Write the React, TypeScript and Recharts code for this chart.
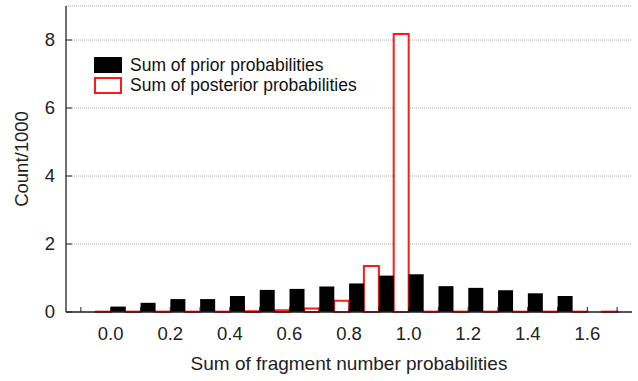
import { BarChart, Bar, XAxis, YAxis, CartesianGrid, Legend } from 'recharts'

const bins = ['-0.1', '0.0', '0.1', '0.2', '0.3', '0.4', '0.5', '0.6', '0.7', '0.8', '0.9', '1.0', '1.1', '1.2', '1.3', '1.4', '1.5', '1.6', '1.7']
const prior = [0, 0.16, 0.27, 0.38, 0.38, 0.47, 0.65, 0.68, 0.75, 0.84, 1.07, 1.11, 0.76, 0.71, 0.64, 0.55, 0.47, 0, 0]
const posterior = [0, 0.01, 0.01, 0.01, 0.01, 0.01, 0.02, 0.05, 0.1, 0.33, 1.35, 8.18, 0.01, 0.01, 0.01, 0.01, 0.01, 0.01, 0.01]
const xLabels = ['0.0', '0.2', '0.4', '0.6', '0.8', '1.0', '1.2', '1.4', '1.6']
const yTicks = [0, 2, 4, 6, 8]

const data = bins.map((bin, i) => ({ bin, prior: prior[i], posterior: posterior[i] }))

const FONT = 'Liberation Sans, Arial, sans-serif'
const AXIS = '#222'
const RED = '#ff1a1a'

function XTick({ x, y, payload }: any) {
  const v = payload.value
  return (
    <g>
      <line x1={x} x2={x} y1={y} y2={y - 5} stroke={AXIS} />
      {xLabels.includes(v) && (
        <text x={x} y={y + 28} textAnchor="middle" fontSize={18.5} fontFamily={FONT} fill="#222">
          {v}
        </text>
      )}
    </g>
  )
}

function YTick({ x, y, payload }: any) {
  return (
    <g>
      <line x1={x} x2={x + 6} y1={y} y2={y} stroke={AXIS} />
      <text x={x - 11} y={y} dy="0.35em" textAnchor="end" fontSize={18.5} fontFamily={FONT} fill="#222">
        {payload.value}
      </text>
    </g>
  )
}

function YLabel({ viewBox }: any) {
  const cx = 22
  const cy = viewBox.y + viewBox.height / 2
  return (
    <text x={cx} y={cy} transform={`rotate(-90 ${cx} ${cy})`} textAnchor="middle" dy="0.35em" fontSize={18.5} fontFamily={FONT} fill="#222">
      Count/1000
    </text>
  )
}

function LegendBox() {
  const row = { display: 'flex', alignItems: 'center', height: 20.5, fontSize: 17.5, fontFamily: FONT, color: '#111', whiteSpace: 'nowrap' as const }
  return (
    <div>
      <div style={row}>
        <span style={{ width: 28, height: 16, background: '#000', marginRight: 8, boxSizing: 'border-box' }} />
        Sum of prior probabilities
      </div>
      <div style={row}>
        <span style={{ width: 28, height: 17, border: `2px solid ${RED}`, background: '#fff', marginRight: 8, boxSizing: 'border-box' }} />
        Sum of posterior probabilities
      </div>
    </div>
  )
}

export default function App() {
  return (
    <div style={{ position: 'absolute', left: 0, top: 0, background: '#fff' }}>
      <BarChart
        width={638}
        height={381}
        data={data}
        margin={{ top: 6, right: 6, bottom: 0, left: 0 }}
        barCategoryGap="0%"
        barGap={0}
      >
        <CartesianGrid vertical={false} horizontal stroke="#aaa" strokeDasharray="1 1" />
        <XAxis
          dataKey="bin"
          interval={0}
          height={69}
          tickSize={0}
          tickMargin={0}
          tick={<XTick />}
          axisLine={{ stroke: AXIS, strokeWidth: 1.3 }}
          label={{ value: 'Sum of fragment number probabilities', position: 'insideBottom', offset: 11, fontSize: 19, fontFamily: FONT, fill: '#222' }}
        />
        <XAxis xAxisId="top" dataKey="bin" orientation="top" height={0} tick={false} tickLine={false} axisLine={{ stroke: AXIS, strokeWidth: 1.3 }} />
        <YAxis
          domain={[0, 9]}
          ticks={yTicks}
          width={66}
          tickSize={0}
          tickMargin={0}
          tick={<YTick />}
          axisLine={{ stroke: AXIS, strokeWidth: 1.3 }}
          label={<YLabel />}
        />
        <YAxis yAxisId="right" orientation="right" domain={[0, 9]} width={0} tick={false} tickLine={false} axisLine={{ stroke: AXIS, strokeWidth: 1.3 }} />
        <Legend
          layout="vertical"
          align="center"
          verticalAlign="middle"
          content={<LegendBox />}
          wrapperStyle={{ top: 55, left: 94, width: 320 }}
        />
        <Bar dataKey="posterior" fill="#fff" stroke={RED} strokeWidth={2} isAnimationActive={false} />
        <Bar dataKey="prior" fill="#000" isAnimationActive={false} />
      </BarChart>
    </div>
  )
}
